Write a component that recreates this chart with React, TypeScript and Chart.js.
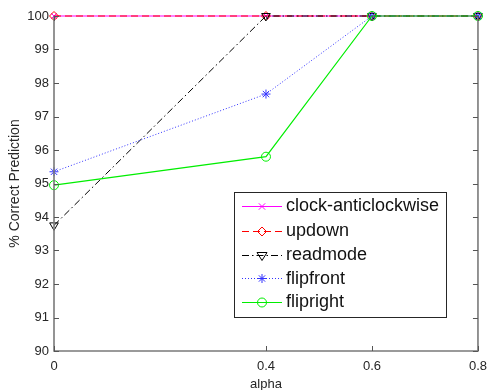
import React, { useEffect, useRef } from "react";
import { Chart, registerables } from "chart.js";

Chart.register(...registerables);

const alpha = [0, 0.4, 0.6, 0.8];
const xTicks = [0, 0.4, 0.6, 0.8];
const yTicks = [90, 91, 92, 93, 94, 95, 96, 97, 98, 99, 100];
const seriesNames = ["clock-anticlockwise", "updown", "readmode", "flipfront", "flipright"];
const clockAnticlockwise = [100, 100, 100, 100];
const updown = [100, 100, 100, 100];
const readmode = [93.75, 100, 100, 100];
const flipfront = [95.35, 97.67, 100, 100];
const flipright = [94.95, 95.8, 100, 100];

const FONT = "'Liberation Sans', Arial, Helvetica, sans-serif";
const TEXT = "#262626";

type Style = { color: string; dash: number[]; marker: string; radius: number; rotation: number; width: number };
const styles: Style[] = [
  { color: "#ff00ff", dash: [], marker: "crossRot", radius: 4, rotation: 0, width: 1 },
  { color: "#ff0000", dash: [7, 4], marker: "rectRot", radius: 4.5, rotation: 0, width: 1 },
  { color: "#000000", dash: [7, 3, 1.5, 3], marker: "triangle", radius: 5, rotation: 180, width: 1 },
  { color: "#3333ff", dash: [1, 2], marker: "star", radius: 4.5, rotation: 0, width: 1 },
  { color: "#00ee00", dash: [], marker: "circle", radius: 4.5, rotation: 0, width: 1.2 },
];

function drawMarker(ctx: CanvasRenderingContext2D, s: Style, x: number, y: number) {
  const r = s.radius;
  ctx.save();
  ctx.setLineDash([]);
  ctx.strokeStyle = s.color;
  ctx.lineWidth = 1;
  ctx.beginPath();
  if (s.marker === "crossRot") {
    const d = r * 0.8;
    ctx.moveTo(x - d, y - d); ctx.lineTo(x + d, y + d);
    ctx.moveTo(x + d, y - d); ctx.lineTo(x - d, y + d);
  } else if (s.marker === "rectRot") {
    ctx.moveTo(x, y - r); ctx.lineTo(x + r, y); ctx.lineTo(x, y + r); ctx.lineTo(x - r, y); ctx.closePath();
  } else if (s.marker === "triangle") {
    const h = r;
    ctx.moveTo(x - h, y - h * 0.6); ctx.lineTo(x + h, y - h * 0.6); ctx.lineTo(x, y + h); ctx.closePath();
  } else if (s.marker === "star") {
    const d = r * 0.7;
    ctx.moveTo(x, y - r); ctx.lineTo(x, y + r);
    ctx.moveTo(x - r, y); ctx.lineTo(x + r, y);
    ctx.moveTo(x - d, y - d); ctx.lineTo(x + d, y + d);
    ctx.moveTo(x + d, y - d); ctx.lineTo(x - d, y + d);
  } else {
    ctx.arc(x, y, r, 0, Math.PI * 2);
  }
  ctx.stroke();
  ctx.restore();
}

const framePlugin = {
  id: "frame",
  afterDraw(chart: any) {
    const ctx: CanvasRenderingContext2D = chart.ctx;
    const { left, right, top, bottom } = chart.chartArea;
    const xs = chart.scales.x;
    const ys = chart.scales.y;
    ctx.save();
    ctx.strokeStyle = "#7a7a7a";
    ctx.lineWidth = 1.6;
    ctx.setLineDash([]);
    ctx.beginPath();
    ctx.moveTo(left, top); ctx.lineTo(left, bottom); ctx.lineTo(right, bottom); ctx.lineTo(right, top);
    ctx.stroke();
    ctx.lineWidth = 1;
    ctx.strokeStyle = "#555";
    const tl = 5;
    ctx.beginPath();
    for (const v of yTicks) {
      const py = Math.round(ys.getPixelForValue(v)) + 0.5;
      ctx.moveTo(left, py); ctx.lineTo(left + tl, py);
      ctx.moveTo(right, py); ctx.lineTo(right - tl, py);
    }
    for (const v of xTicks) {
      const px = Math.round(xs.getPixelForValue(v)) + 0.5;
      ctx.moveTo(px, bottom); ctx.lineTo(px, bottom - tl);
      ctx.moveTo(px, top); ctx.lineTo(px, top + tl);
    }
    ctx.stroke();

    // axis titles
    ctx.fillStyle = TEXT;
    ctx.font = `13px ${FONT}`;
    ctx.textAlign = "center";
    ctx.textBaseline = "middle";
    ctx.fillText("alpha", (left + right) / 2, 384);
    ctx.save();
    ctx.font = `14px ${FONT}`;
    ctx.translate(15, (top + bottom) / 2);
    ctx.rotate(-Math.PI / 2);
    ctx.fillText("% Correct Prediction", 0, 0);
    ctx.restore();

    // legend
    const lx = 234, ly = 192, lw = 212, lh = 125;
    ctx.fillStyle = "#ffffff";
    ctx.fillRect(lx, ly, lw, lh);
    ctx.strokeStyle = "#262626";
    ctx.lineWidth = 1;
    ctx.strokeRect(lx + 0.5, ly + 0.5, lw, lh);
    const rowY = [205.5, 230.5, 254.5, 278, 301.5];
    ctx.font = `18px ${FONT}`;
    ctx.textAlign = "left";
    ctx.textBaseline = "middle";
    seriesNames.forEach((name, i) => {
      const s = styles[i];
      const y = Math.round(rowY[i]) + 0.5;
      ctx.save();
      ctx.strokeStyle = s.color;
      ctx.lineWidth = s.width;
      ctx.setLineDash(s.dash);
      ctx.beginPath();
      ctx.moveTo(242, y); ctx.lineTo(282, y);
      ctx.stroke();
      ctx.restore();
      drawMarker(ctx, s, 262, y);
      ctx.fillStyle = "#111";
      ctx.fillText(name, 286, rowY[i] + 1);
    });
    ctx.restore();
  },
};

export default function App() {
  const ref = useRef<HTMLCanvasElement | null>(null);
  useEffect(() => {
    if (!ref.current) return;
    const all = [clockAnticlockwise, updown, readmode, flipfront, flipright];
    const datasets = all.map((arr, i) => {
      const s = styles[i];
      return {
        label: seriesNames[i],
        data: alpha.map((x, j) => ({ x, y: arr[j] })),
        borderColor: s.color,
        backgroundColor: "rgba(0,0,0,0)",
        borderWidth: s.width,
        borderDash: s.dash,
        pointStyle: s.marker,
        pointRadius: s.radius,
        pointRotation: s.rotation,
        pointBorderColor: s.color,
        pointBackgroundColor: "rgba(0,0,0,0)",
        pointBorderWidth: 1,
        fill: false,
        tension: 0,
        clip: false as any,
        order: 5 - i,
      };
    });
    const chart = new Chart(ref.current, {
      type: "line",
      data: { datasets },
      plugins: [framePlugin],
      options: {
        animation: false,
        responsive: false,
        maintainAspectRatio: false,
        layout: { padding: { left: 0, top: 16, right: 16, bottom: 0 } },
        plugins: { legend: { display: false }, tooltip: { enabled: false }, title: { display: false } },
        scales: {
          x: {
            type: "linear",
            min: 0,
            max: 0.8,
            afterBuildTicks: (scale: any) => {
              scale.ticks = xTicks.map((v) => ({ value: v }));
            },
            afterFit: (scale: any) => {
              scale.height = 39;
            },
            grid: { display: false, drawTicks: false },
            border: { display: false },
            ticks: {
              padding: 8,
              color: TEXT,
              font: { family: FONT, size: 13 },
              maxRotation: 0,
              autoSkip: false,
              callback: (v: any) => String(v),
            },
          },
          y: {
            type: "linear",
            min: 90,
            max: 100,
            afterBuildTicks: (scale: any) => {
              scale.ticks = yTicks.map((v) => ({ value: v }));
            },
            afterFit: (scale: any) => {
              scale.width = 54;
            },
            grid: { display: false, drawTicks: false },
            border: { display: false },
            ticks: {
              padding: 5,
              color: TEXT,
              font: { family: FONT, size: 13 },
              autoSkip: false,
              callback: (v: any) => String(v),
            },
          },
        },
      } as any,
    });
    return () => chart.destroy();
  }, []);
  return (
    <div style={{ position: "fixed", left: 0, top: 0, width: 495, height: 390, background: "#fff" }}>
      <canvas ref={ref} width={495} height={390} style={{ width: 495, height: 390 }} />
    </div>
  );
}
